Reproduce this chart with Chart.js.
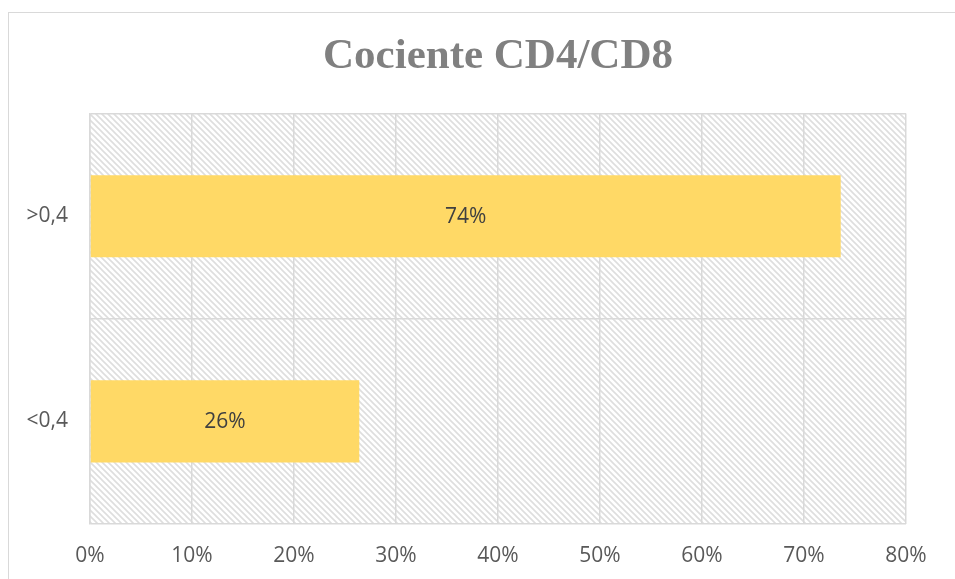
<!DOCTYPE html>
<html>
<head>
<meta charset="utf-8">
<script src="https://cdn.jsdelivr.net/npm/chart.js@4/dist/chart.umd.min.js"></script>
<style>
  html, body { margin: 0; padding: 0; background: #fff; }
  #wrap { position: relative; width: 955px; height: 579px; overflow: hidden; }
  #frame { position: absolute; left: 8px; top: 12px; width: 960px; height: 600px; border: 1px solid #d9d9d9; box-sizing: border-box; }
  canvas { position: absolute; left: 0; top: 0; }
</style>
</head>
<body>
<div id="wrap">
  <div id="frame"></div>
  <canvas id="chart" width="955" height="579"></canvas>
</div>
<script>
const categories = ['>0,4', '<0,4']
const values = [73.6, 26.4]
const valueLabels = ['74%', '26%']
const tickMax = 80
const tickStep = 10

// rayado diagonal del fondo
function makeHatch() {
    const c = document.createElement('canvas')
    c.width = 6
    c.height = 6
    const g = c.getContext('2d')
    g.fillStyle = '#ffffff'
    g.fillRect(0, 0, 6, 6)
    g.strokeStyle = '#dedede'
    g.lineWidth = 1.6
    g.beginPath()
    g.moveTo(-1, -1); g.lineTo(7, 7)
    g.moveTo(-1, 5); g.lineTo(1, 7)
    g.moveTo(5, -1); g.lineTo(7, 1)
    g.stroke()
    return g.createPattern(c, 'repeat')
}

const hatchBg = {
    id: 'hatchBg',
    beforeDraw(chart) {
        const { ctx, chartArea: a } = chart
        ctx.save()
        ctx.fillStyle = makeHatch()
        ctx.fillRect(a.left, a.top, a.right - a.left, a.bottom - a.top)
        ctx.restore()
    }
}

// etiquetas dentro de las barras
const barLabels = {
    id: 'barLabels',
    afterDatasetsDraw(chart) {
        const ctx = chart.ctx
        const meta = chart.getDatasetMeta(0)
        ctx.save()
        ctx.font = '21px "Open Sans", sans-serif'
        ctx.fillStyle = '#404040'
        ctx.textAlign = 'center'
        ctx.textBaseline = 'middle'
        meta.data.forEach((bar, i) => {
            const x = (bar.base + bar.x) / 2
            ctx.fillText(valueLabels[i], x, bar.y + 1)
        })
        ctx.restore()
    }
}

new Chart(document.getElementById('chart'), {
    type: 'bar',
    data: {
        labels: categories,
        datasets: [{
            data: values,
            backgroundColor: '#ffd966',
            barPercentage: 0.4,
            categoryPercentage: 1
        }]
    },
    options: {
        indexAxis: 'y',
        responsive: false,
        animation: false,
        layout: { padding: { left: 25, right: 49, top: 0, bottom: 0 } },
        plugins: {
            legend: { display: false },
            tooltip: { enabled: false },
            title: {
                display: true,
                fullSize: false,
                text: 'Cociente CD4/CD8',
                color: '#808080',
                font: { family: '"Liberation Serif", "Times New Roman", serif', size: 43, weight: 'bold' },
                padding: { top: 31, bottom: 31 }
            }
        },
        scales: {
            x: {
                min: 0,
                max: tickMax,
                afterFit: s => { s.height = 55 },
                ticks: {
                    stepSize: tickStep,
                    color: '#595959',
                    font: { family: '"Open Sans", sans-serif', size: 21 },
                    padding: 19,
                    callback: v => v + '%'
                },
                grid: { color: '#d9d9d9', lineWidth: 1.5, drawTicks: false },
                border: { display: false }
            },
            y: {
                afterFit: s => { s.width = 65 },
                ticks: {
                    color: '#595959',
                    font: { family: '"Open Sans", sans-serif', size: 21 },
                    padding: 22
                },
                grid: { color: '#d9d9d9', lineWidth: 1.5, offset: true, drawTicks: false },
                border: { color: '#d9d9d9', width: 1.5 }
            }
        }
    },
    plugins: [hatchBg, barLabels]
})
</script>
</body>
</html>
